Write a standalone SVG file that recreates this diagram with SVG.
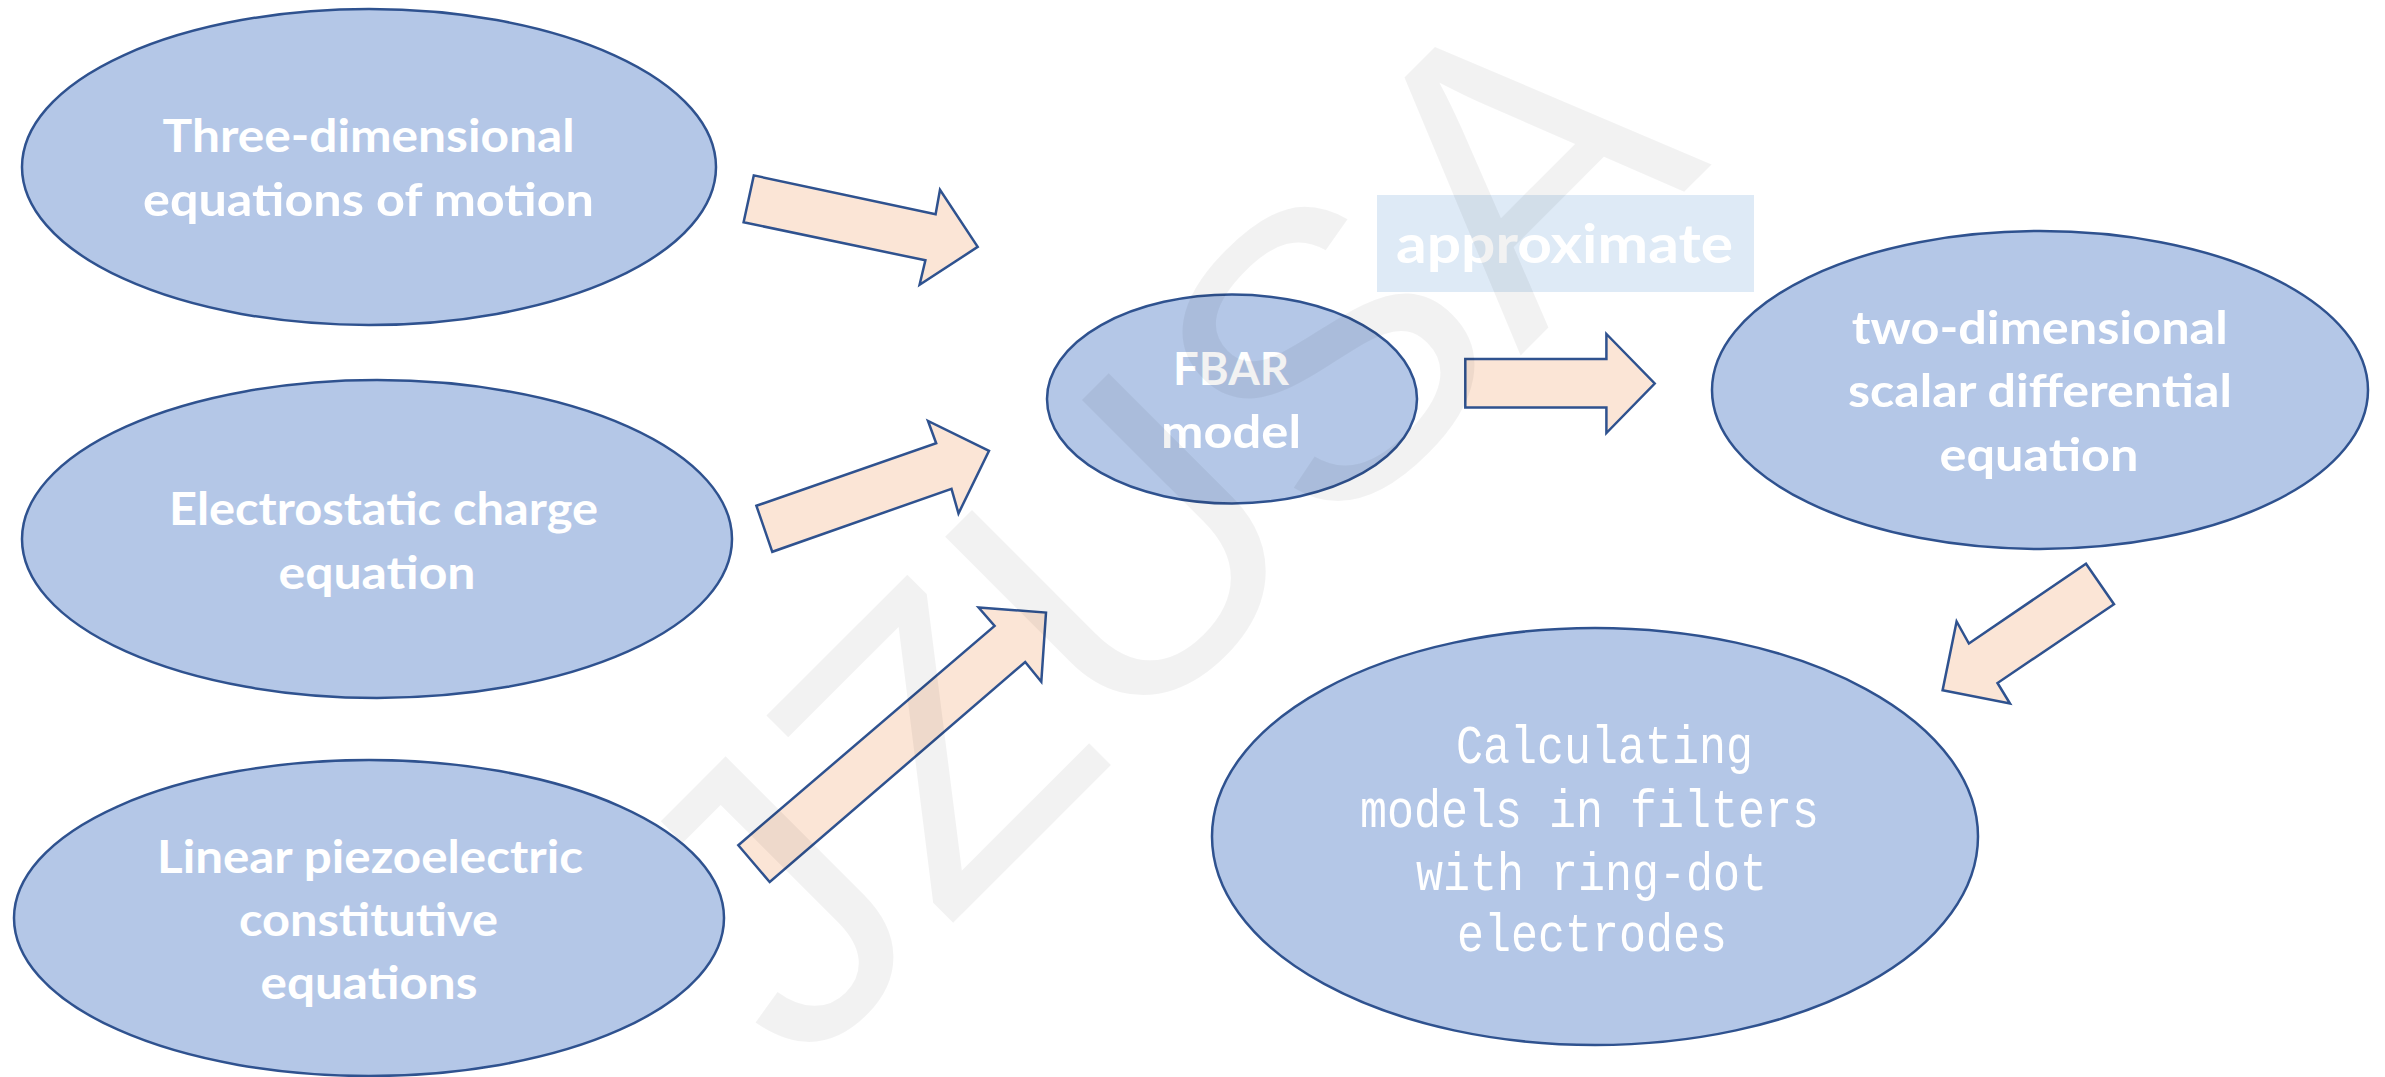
<svg xmlns="http://www.w3.org/2000/svg" width="2385" height="1077" viewBox="0 0 2385 1077">
<style>
.node{fill:#b4c7e7;stroke:#2f528f;stroke-width:2.5}
.arr{fill:#fbe5d6;stroke:#2f528f;stroke-width:2.5;stroke-linejoin:miter}
.lb{font-family:Lato,"Open Sans","Liberation Sans",sans-serif;font-weight:bold;font-size:46px;fill:#ffffff;text-anchor:middle}
.mono{font-family:"Liberation Mono","DejaVu Sans Mono",monospace;font-size:54px;fill:#ffffff}
.wm{font-family:"Liberation Sans",Arial,sans-serif;font-size:405px;fill:#000000;fill-opacity:0.05}
</style>
<rect width="2385" height="1077" fill="#ffffff"/>
<g id="connectors">
<polygon class="arr" points="753.8,175.4 935.6,214.3 940,189.7 977.7,246.9 919.6,284.8 925.4,260.3 743.6,222.3"/>
<polygon class="arr" points="756.4,505.8 936.2,443.3 928,421 989,450.9 958.5,513.4 951.5,488.8 772.3,551.8"/>
<polygon class="arr" points="738.3,845.2 994.6,625.9 978.6,607.5 1046,612.6 1041.3,681.8 1025.2,662 769.7,882"/>
<polygon class="arr" points="1465.3,359 1606.4,359 1606.4,334 1654.7,383.5 1606.4,433 1606.4,407.5 1465.3,407.5"/>
<polygon class="arr" points="2086,563.7 2114,604.2 1997.5,683 2010,703.5 1942.6,690.3 1956.6,621.5 1968.9,643.5"/>
</g>
<g id="node-motion">
<ellipse class="node" cx="369" cy="167" rx="347" ry="158"/>
<text class="lb" x="368.6" y="152" textLength="412" lengthAdjust="spacingAndGlyphs">Three-dimensional</text>
<text class="lb" x="368.5" y="216" textLength="451" lengthAdjust="spacingAndGlyphs">equations of motion</text>
</g>
<g id="node-charge">
<ellipse class="node" cx="377" cy="539" rx="355" ry="159"/>
<text class="lb" x="383.5" y="524.5" textLength="429" lengthAdjust="spacingAndGlyphs">Electrostatic charge</text>
<text class="lb" x="377" y="589" textLength="197" lengthAdjust="spacingAndGlyphs">equation</text>
</g>
<g id="node-piezo">
<ellipse class="node" cx="369" cy="918" rx="355" ry="158"/>
<text class="lb" x="370" y="872.5" textLength="426" lengthAdjust="spacingAndGlyphs">Linear piezoelectric</text>
<text class="lb" x="368.5" y="935.5" textLength="259" lengthAdjust="spacingAndGlyphs">constitutive</text>
<text class="lb" x="369" y="998.5" textLength="217" lengthAdjust="spacingAndGlyphs">equations</text>
</g>
<g id="node-fbar">
<ellipse class="node" cx="1232" cy="399" rx="185" ry="104.5"/>
<text class="lb" x="1231" y="385" textLength="116" lengthAdjust="spacingAndGlyphs">FBAR</text>
<text class="lb" x="1231" y="448" textLength="140" lengthAdjust="spacingAndGlyphs">model</text>
</g>
<g id="node-approximate">
<rect x="1377" y="195" width="377" height="97" fill="#deeaf6"/>
<text class="lb" x="1564.5" y="263" style="font-size:54px" textLength="337" lengthAdjust="spacingAndGlyphs">approximate</text>
</g>
<g id="node-scalar">
<ellipse class="node" cx="2040" cy="390" rx="328" ry="159"/>
<text class="lb" x="2039.7" y="344" textLength="376" lengthAdjust="spacingAndGlyphs">two-dimensional</text>
<text class="lb" x="2040" y="407" textLength="384" lengthAdjust="spacingAndGlyphs">scalar differential</text>
<text class="lb" x="2039" y="470.5" textLength="199" lengthAdjust="spacingAndGlyphs">equation</text>
</g>
<g id="node-calculating">
<ellipse class="node" cx="1595" cy="836.5" rx="383" ry="208.5"/>
<text class="mono" x="1456" y="763" textLength="297" lengthAdjust="spacingAndGlyphs">Calculating</text>
<text class="mono" x="1360" y="827" textLength="459" lengthAdjust="spacingAndGlyphs">models in filters</text>
<text class="mono" x="1416" y="890" textLength="351" lengthAdjust="spacingAndGlyphs">with ring-dot</text>
<text class="mono" x="1457" y="951" textLength="270" lengthAdjust="spacingAndGlyphs">electrodes</text>
</g>
<g id="watermark">
<text class="wm" x="0" y="0" transform="translate(800,1076) rotate(-45)" textLength="1290" lengthAdjust="spacingAndGlyphs">JZUSA</text>
</g>
</svg>
